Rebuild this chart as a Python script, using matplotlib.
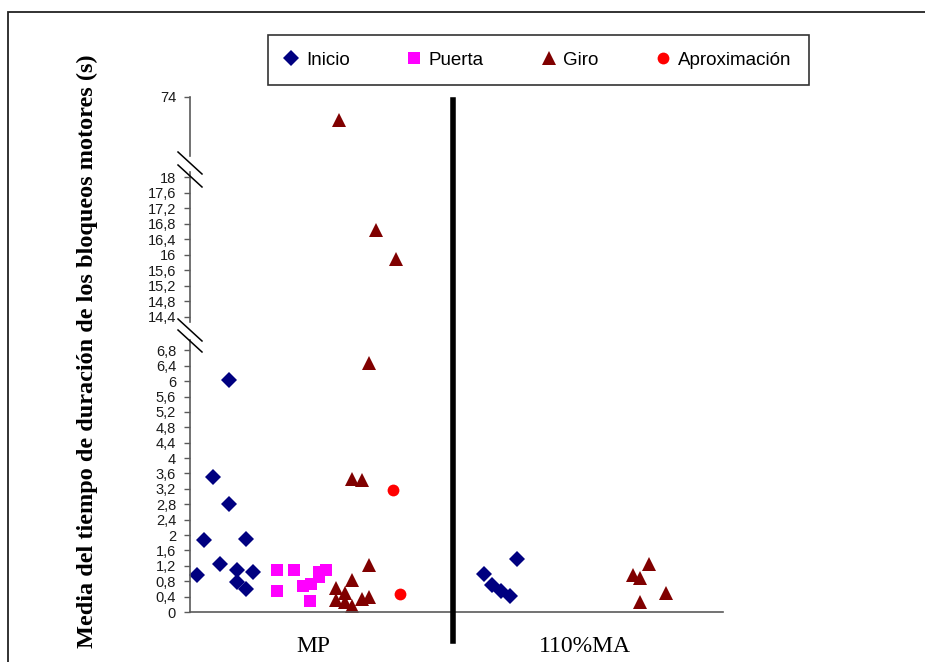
import matplotlib
matplotlib.use("Agg")
import matplotlib.pyplot as plt
from matplotlib.lines import Line2D
from matplotlib.patches import Rectangle
import numpy as np

# ---- data -------------------------------------------------------------
categories = ["MP", "110%MA"]
category_pos = [0.47, 1.5]

inicio_x = [0.025, 0.054, 0.089, 0.114, 0.149, 0.149, 0.177, 0.177, 0.213, 0.213, 0.241,
            1.119, 1.147, 1.181, 1.217, 1.243]
inicio_y = [0.96, 1.87, 3.51, 1.25, 6.04, 2.80, 1.09, 0.79, 1.91, 0.60, 1.03,
            0.98, 0.70, 0.55, 0.41, 1.39]

puerta_x = [0.332, 0.332, 0.394, 0.428, 0.459, 0.456, 0.490, 0.490, 0.517]
puerta_y = [1.09, 0.55, 1.09, 0.68, 0.72, 0.29, 0.90, 1.05, 1.09]

giro_x = [0.555, 0.555, 0.589, 0.589, 0.617, 0.617, 0.617, 0.653, 0.653, 0.681, 0.681,
          0.679, 0.706, 0.782, 0.565,
          1.683, 1.712, 1.747, 1.809, 1.712]
giro_y = [0.62, 0.31, 0.49, 0.27, 0.16, 0.83, 3.47, 3.43, 0.33, 0.38, 1.21,
          6.47, 16.64, 15.90, 54.0,
          0.97, 0.89, 1.25, 0.50, 0.27]

aprox_x = [0.772, 0.800]
aprox_y = [3.16, 0.48]

# y-axis segments (broken axis): limits and tick labels
low_lim, low_ticks = (0, 7.07), np.round(np.arange(0, 6.81, 0.4), 1)
mid_lim, mid_ticks = (14.27, 18.13), np.round(np.arange(14.4, 18.01, 0.4), 1)
top_lim, top_ticks = (18, 74), [74]

series = [
    ("Inicio", inicio_x, inicio_y, "D", "#000080", 8),
    ("Puerta", puerta_x, puerta_y, "s", "#FF00FF", 8.5),
    ("Giro", giro_x, giro_y, "^", "#800000", 9.5),
    ("Aproximación", aprox_x, aprox_y, "o", "#FF0000", 8.5),
]

W, H = 925, 662
fig = plt.figure(figsize=(W / 100, H / 100), dpi=100)
fig.patch.set_facecolor("white")


def fr(x0, y_top, x1, y_bot):
    """pixel box -> figure-fraction rect"""
    return [x0 / W, 1 - y_bot / H, (x1 - x0) / W, (y_bot - y_top) / H]


ax_low = fig.add_axes(fr(190, 340, 723, 612))
ax_mid = fig.add_axes(fr(190, 172, 723, 322))
ax_top = fig.add_axes(fr(190, 97, 723, 160))

axis_grey = "#5a5a5a"


def fmt(v):
    s = ("%g" % v)
    return s.replace(".", ",")


for ax, lim, ticks in [(ax_low, low_lim, low_ticks), (ax_mid, mid_lim, mid_ticks),
                       (ax_top, top_lim, top_ticks)]:
    ax.set_xlim(0, 2.027)
    ax.set_ylim(*lim)
    ax.set_yticks(ticks)
    ax.set_yticklabels([fmt(t) for t in ticks], fontsize=10.5,
                       fontfamily="Liberation Sans", color="#1a1a1a")
    ax.tick_params(axis="y", direction="out", length=4, width=1, color=axis_grey, pad=6)
    for s in ["top", "right"]:
        ax.spines[s].set_visible(False)
    ax.spines["left"].set_color(axis_grey)
    ax.spines["left"].set_linewidth(1.2)
    ax.patch.set_alpha(0)
    for name, xs, ys, mk, col, ms in series:
        xs = np.asarray(xs)
        ys = np.asarray(ys)
        m = (ys >= lim[0]) & (ys <= lim[1])
        ax.plot(xs[m], ys[m], linestyle="none", marker=mk, color=col,
                markersize=ms, markeredgewidth=0, clip_on=False, label=name)
    if ax is not ax_low:
        ax.spines["bottom"].set_visible(False)
        ax.set_xticks([])
    if ax is ax_top:
        ax.spines["left"].set_bounds(22, 74)

ax_low.spines["bottom"].set_color(axis_grey)
ax_low.spines["bottom"].set_linewidth(1.2)
ax_low.set_xticks(category_pos)
ax_low.set_xticklabels(categories, fontsize=17, fontfamily="Liberation Serif")
ax_low.tick_params(axis="x", length=0, pad=17)

# thick separator between the two conditions
sep_x = ax_low.transData.transform((1.0, 0))[0] / W
fig.add_artist(Line2D([sep_x, sep_x], [1 - 641 / H, 1 - 100 / H],
                      color="black", linewidth=4, transform=fig.transFigure))

# break marks on the y-axis
for (y1, y2) in [(152, 174), (165, 187), (319, 341), (330, 352)]:
    fig.add_artist(Line2D([178 / W, 202 / W], [1 - y1 / H, 1 - y2 / H],
                          color="black", linewidth=1.1, transform=fig.transFigure))

# y-axis title
fig.text(87 / W, 1 - 351 / H,
         "Media del tiempo de duración de los bloqueos motores (s)",
         rotation=90, ha="center", va="center", fontsize=17.5,
         fontweight="bold", fontfamily="Liberation Serif")

# legend
handles, labels = ax_low.get_legend_handles_labels()
leg = fig.legend(handles, labels, ncol=4, loc="center",
                 bbox_to_anchor=(259 / W, 1 - 90 / H, 559 / W, 60 / H),
                 mode="expand", frameon=True, fancybox=False,
                 prop={"family": "Liberation Sans", "size": 13.5},
                 handlelength=0.6, handletextpad=0.5, borderpad=0.9,
                 markerscale=1.0)
leg.get_frame().set_edgecolor("black")
leg.get_frame().set_linewidth(1.2)

# outer frame of the figure
fig.add_artist(Rectangle((8 / W, -0.05), 1.0, 1 - 12 / H + 0.05,
                         fill=False, edgecolor="#222222", linewidth=1.3,
                         transform=fig.transFigure))

fig.savefig("out.png", dpi=100)
